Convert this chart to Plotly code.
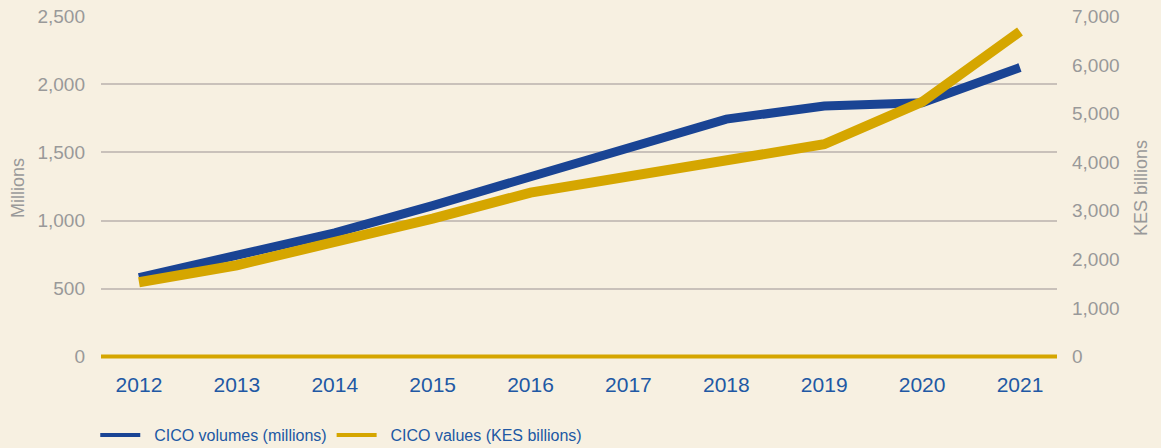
import plotly.graph_objects as go

years = [2012, 2013, 2014, 2015, 2016, 2017, 2018, 2019, 2020, 2021]
volumes_millions = [580, 740, 910, 1110, 1325, 1540, 1745, 1842, 1866, 2125]
values_kes_billions = [1530, 1880, 2360, 2840, 3375, 3690, 4015, 4370, 5240, 6690]

left_ticks = [0, 500, 1000, 1500, 2000, 2500]
right_ticks = [0, 1000, 2000, 3000, 4000, 5000, 6000, 7000]

BG = "#f7f0e1"
BLUE = "#1a4494"
GOLD = "#d5a600"
GRID = "#c9c1ba"
GREY = "#999999"
LABEL_BLUE = "#2158a4"
FONT = "Liberation Sans"
PAD = "\u00a0\u00a0"

fig = go.Figure()
fig.add_trace(go.Scatter(
    x=years, y=volumes_millions, name="CICO volumes (millions)",
    mode="lines", line=dict(color=BLUE, width=9), yaxis="y", showlegend=False,
))
fig.add_trace(go.Scatter(
    x=years, y=values_kes_billions, name="CICO values (KES billions)",
    mode="lines", line=dict(color=GOLD, width=10), yaxis="y2", showlegend=False,
))
# legend entries with thinner key lines
fig.add_trace(go.Scatter(
    x=[None], y=[None], name=PAD + "CICO volumes (millions)", mode="lines",
    line=dict(color=BLUE, width=4), yaxis="y",
))
fig.add_trace(go.Scatter(
    x=[None], y=[None], name=PAD + "CICO values (KES billions)", mode="lines",
    line=dict(color=GOLD, width=4), yaxis="y2",
))

# gold baseline at zero
fig.add_shape(type="line", xref="paper", yref="y", x0=0, x1=1, y0=0, y1=0,
              line=dict(color=GOLD, width=4), layer="above")

fig.update_layout(
    width=1161, height=448,
    margin=dict(l=101, r=104, t=16, b=88, autoexpand=False),
    paper_bgcolor=BG, plot_bgcolor=BG,
    font=dict(family=FONT, color=GREY, size=17),
    showlegend=True,
    legend=dict(
        orientation="h", x=-0.006, xanchor="left", y=-0.218, yanchor="middle",
        font=dict(family=FONT, size=16, color=LABEL_BLUE),
        bgcolor="rgba(0,0,0,0)", itemwidth=40, tracegroupgap=0,
    ),
    xaxis=dict(
        range=[2011.612, 2021.378], tickmode="array", tickvals=years,
        ticktext=[str(y) for y in years], showgrid=False, zeroline=False,
        showline=False, ticklabelstandoff=10,
        tickfont=dict(family=FONT, size=21, color=LABEL_BLUE),
    ),
    yaxis=dict(
        range=[-25, 2503], tickmode="array", tickvals=left_ticks,
        ticktext=[f"{v:,}" for v in left_ticks],
        showgrid=True, gridcolor=GRID, gridwidth=1.5, zeroline=False,
        showline=False, ticklabelstandoff=15,
        tickfont=dict(family=FONT, size=19, color=GREY),
        title=dict(text="Millions", font=dict(family=FONT, size=18, color=GREY), standoff=8),
    ),
    yaxis2=dict(
        range=[-70, 7008.4], overlaying="y", side="right", tickmode="array",
        tickvals=right_ticks, ticktext=[f"{v:,}" for v in right_ticks],
        showgrid=False, zeroline=False, showline=False, ticklabelstandoff=14,
        tickfont=dict(family=FONT, size=19, color=GREY),
        title=dict(text="KES billions", font=dict(family=FONT, size=18, color=GREY), standoff=15),
    ),
)

fig.write_html("out.html")
